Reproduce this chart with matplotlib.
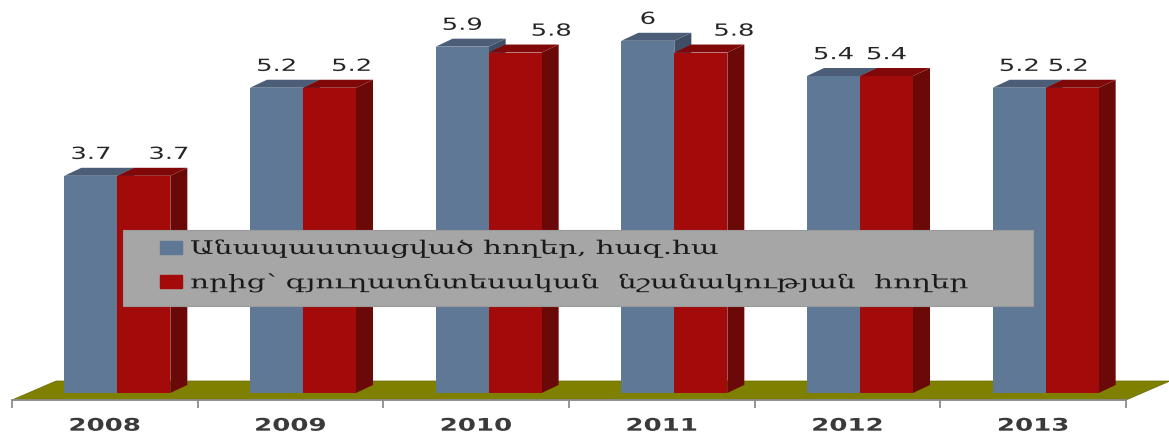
import numpy as np
import matplotlib
matplotlib.use("Agg")
import matplotlib.pyplot as plt
from matplotlib.patches import Polygon, Rectangle, Patch
from matplotlib.patheffects import AbstractPathEffect
from matplotlib.transforms import Affine2D

# data
years = ["2008", "2009", "2010", "2011", "2012", "2013"]
total_land = [3.7, 5.2, 5.9, 6.0, 5.4, 5.2]   # Անապաստացված հողեր
agri_land = [3.7, 5.2, 5.8, 5.8, 5.4, 5.2]    # որից՝ գյուղատնտեսական
legend_labels = ["Անապաստացված հողեր, հազ.հա",
                 "որից՝ գյուղատնտեսական  նշանակության  հողեր"]

# label nudges (pixels) for the red series, as in the original
red_label_shift = [25, 22, 36, 33, 0, -4]

# colours
blue, blue_top, blue_side = "#5f7896", "#4b5d77", "#3f4e64"
red, red_top, red_side = "#a30a0a", "#800808", "#6b0909"
floor_col = "#7f7f00"


class Stretch(AbstractPathEffect):
    # the picture is wider than normal: glyphs are stretched sideways
    def __init__(self, sx, anchor="center"):
        super().__init__()
        self.sx = sx
        self.anchor = anchor

    def draw_path(self, renderer, gc, tpath, affine, rgbFace=None):
        cx = 0
        if self.anchor == "center":
            ext = tpath.get_extents()
            cx = (ext.x0 + ext.x1) / 2
        t = Affine2D().translate(-cx, 0).scale(self.sx, 1).translate(cx, 0)
        renderer.draw_path(gc, tpath, t + affine, rgbFace)


W, H = 1169, 438
fig = plt.figure(figsize=(W / 100, H / 100), dpi=100)
ax = fig.add_axes([12 / W, 38 / H, 1114 / W, 400 / H])
ax.set_xlim(-0.5, 5.5)
ax.set_ylim(-0.12, 6.695)

xu = 1114 / 6          # px per category
yu = 400 / (6.695 + 0.12)  # px per unit
dx, dy = 17 / xu, 8 / yu   # bar depth
fdx, fdy = 44 / xu, 19 / yu  # floor depth

# floor
ylo = -0.12
floor = Polygon([(-0.5, ylo), (5.5, ylo), (5.5 + fdx, ylo + fdy), (-0.5 + fdx, ylo + fdy)],
                closed=True, facecolor=floor_col, edgecolor="#6a6a00", lw=0.5,
                zorder=0.5, clip_on=False)
ax.add_patch(floor)

x = np.arange(len(years))
w = 53 / xu
off_b = -14 / xu
off_r = off_b + w


def bar3d(xs, vals, front, top, side, z):
    ax.bar(xs, vals, w, color=front, zorder=z, linewidth=0)
    for xc, v in zip(xs, vals):
        x0, x1 = xc - w / 2, xc + w / 2
        ax.add_patch(Polygon([(x0, v), (x1, v), (x1 + dx, v + dy), (x0 + dx, v + dy)],
                             closed=True, facecolor=top, lw=0, zorder=z, clip_on=False))
        ax.add_patch(Polygon([(x1, 0), (x1, v), (x1 + dx, v + dy), (x1 + dx, dy)],
                             closed=True, facecolor=side, lw=0, zorder=z - 0.1, clip_on=False))


bar3d(x + off_b, total_land, blue, blue_top, blue_side, 2)
bar3d(x + off_r, agri_land, red, red_top, red_side, 3)

# value labels
for i, v in enumerate(total_land):
    ax.annotate(f"{v:g}", xy=(x[i] + off_b, v + dy), xytext=(0, 10),
                textcoords="offset points", ha="center", va="center",
                fontsize=12, color="#262626", zorder=6,
                path_effects=[Stretch(1.55)])
for i, v in enumerate(agri_land):
    ax.annotate(f"{v:g}", xy=(x[i] + off_r, v + dy), xytext=(red_label_shift[i] * 0.72, 10),
                textcoords="offset points", ha="center", va="center",
                fontsize=12, color="#262626", zorder=6,
                path_effects=[Stretch(1.55)])

# axes
for s in ["top", "right", "left"]:
    ax.spines[s].set_visible(False)
ax.spines["bottom"].set_color("#8c8c8c")
ax.spines["bottom"].set_linewidth(1.3)
ax.set_yticks([])
ax.set_xticks(x)
labs = ax.set_xticklabels(years, fontsize=12.5, fontweight="bold", color="#3a3a3a")
for t in labs:
    t.set_path_effects([Stretch(1.5)])
ax.set_xticks(np.arange(-0.5, 6, 1), minor=True)
ax.tick_params(axis="x", which="major", length=0, pad=12)
ax.tick_params(axis="x", which="minor", length=6, color="#8c8c8c", width=1.3)
ax.patch.set_visible(False)

# legend box
ax.add_patch(Rectangle((123 / W, 1 - 306 / H), 910 / W, 76 / H, transform=fig.transFigure,
                       facecolor="#a6a6a6", edgecolor="#9a9a9a", lw=0.8,
                       zorder=4.5, clip_on=False))
fs = 13.5
leg = ax.legend(handles=[Patch(color=blue), Patch(color=red)], labels=legend_labels,
                loc="upper left", bbox_to_anchor=(160 / W, 1 - 239 / H),
                bbox_transform=fig.transFigure, frameon=False, borderpad=0,
                borderaxespad=0, handlelength=22 / 18.75, handleheight=12 / 18.75,
                handletextpad=8 / 18.75, labelspacing=0.81,
                prop=dict(family=["DejaVu Serif", "DejaVu Sans"], size=fs))
leg.set_zorder(5)
for t in leg.get_texts():
    t.set_color("#1a1a1a")
    t.set_path_effects([Stretch(1.57, anchor="left")])

fig.savefig("out.png", dpi=100)
